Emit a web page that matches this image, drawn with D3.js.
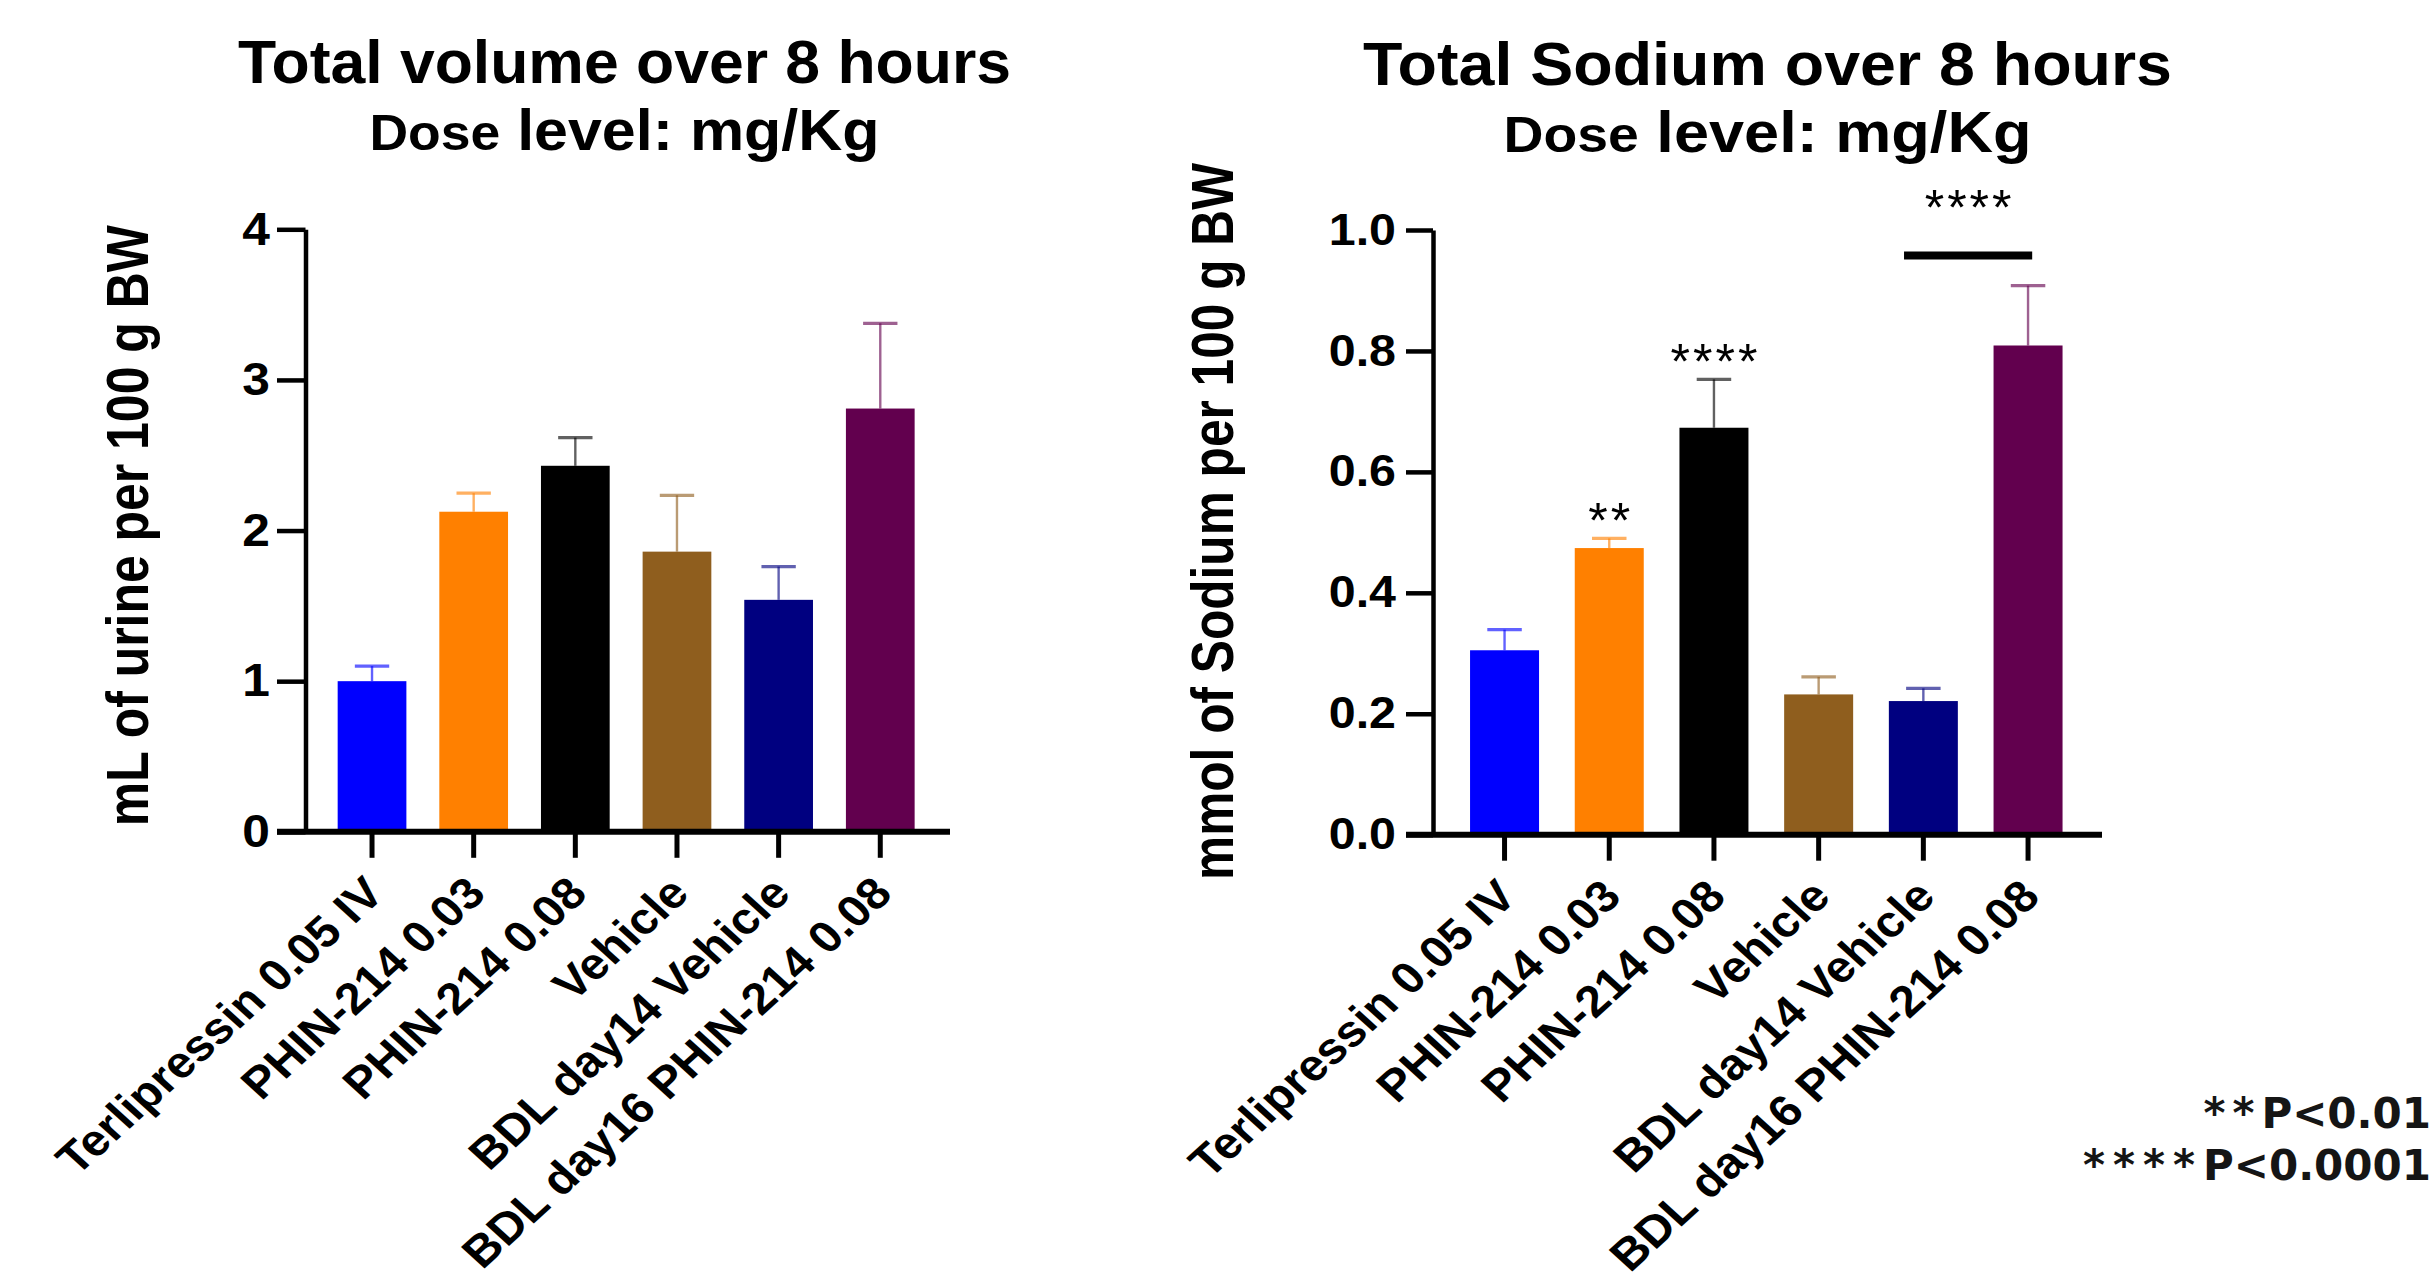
<!DOCTYPE html>
<html>
<head>
<meta charset="utf-8">
<script src="https://cdn.jsdelivr.net/npm/d3@7"></script>
<style>
body { margin: 0; background: #fff; }
svg text { font-family: "Liberation Sans", Arial, sans-serif; }
</style>
</head>
<body>
<div id="chart"></div>
<script>
// groups on the x axis (same in both panels)
var categories = ["Terlipressin 0.05 IV", "PHIN-214 0.03", "PHIN-214 0.08", "Vehicle", "BDL day14 Vehicle", "BDL day16 PHIN-214 0.08"];
var barColors = ["#0000ff", "#ff8000", "#000000", "#8f5e1e", "#000080", "#62004e"];

// left panel: urine volume
var volumeMean = [1.00, 2.125, 2.43, 1.86, 1.54, 2.81];
var volumeSem = [0.10, 0.123, 0.187, 0.374, 0.221, 0.566];
var volumeTicks = [0, 1, 2, 3, 4];

// right panel: sodium
var sodiumMean = [0.305, 0.474, 0.673, 0.232, 0.221, 0.809];
var sodiumSem = [0.034, 0.016, 0.080, 0.029, 0.021, 0.099];
var sodiumTicks = [0, 0.2, 0.4, 0.6, 0.8, 1.0];
var sodiumStars = ["", "**", "****", "", "", ""];
var compareGroups = [4, 5];
var compareLevel = 0.958;
var compareStars = "****";

var pStars = ["**", "****"];
var pText = ["P<0.01", "P<0.0001"];

var titlesLeft = ["Total volume over 8 hours", "Dose", " level: mg/Kg"];
var titlesRight = ["Total Sodium over 8 hours", "Dose", " level: mg/Kg"];

var W = 2433, H = 1286;
var svg = d3.select("#chart").append("svg")
    .attr("width", W)
    .attr("height", H);

function stretch(sel, f) {
    sel.each(function() {
        var L = this.getComputedTextLength();
        d3.select(this).attr("textLength", L * f).attr("lengthAdjust", "spacingAndGlyphs");
    });
}

function draw_panel(p) {
    var g = svg.append("g");

    var x = d3.scaleBand()
        .domain(categories)
        .range(p.band)
        .paddingInner(p.pad)
        .paddingOuter(p.pad / 2);
    var y = d3.scaleLinear()
        .domain([0, p.yMax])
        .range(p.yRange);
    var bw = x.bandwidth();

    // titles
    g.append("text")
        .attr("x", p.titleX).attr("y", p.titleY[0])
        .attr("text-anchor", "middle")
        .style("font-size", "61px").style("font-weight", "bold")
        .attr("textLength", p.titleLen[0]).attr("lengthAdjust", "spacingAndGlyphs")
        .text(p.titles[0]);
    var t2 = g.append("text")
        .attr("x", p.titleX).attr("y", p.titleY[1])
        .attr("text-anchor", "middle")
        .style("font-weight", "bold")
        .attr("textLength", p.titleLen[1]).attr("lengthAdjust", "spacingAndGlyphs");
    t2.append("tspan").style("font-size", "50px").text(p.titles[1]);
    t2.append("tspan").style("font-size", "57px").text(p.titles[2]);

    // y title
    g.append("text")
        .attr("transform", "translate(" + p.yTitleX + "," + p.yTitleY + ") rotate(-90)")
        .attr("text-anchor", "middle")
        .style("font-size", "60px").style("font-weight", "bold")
        .attr("textLength", p.yTitleLen).attr("lengthAdjust", "spacingAndGlyphs")
        .text(p.yTitle);

    // error bars (upper only)
    var err = g.selectAll(".err").data(p.means).enter().append("g")
        .attr("class", "err")
        .style("stroke", function(d, i) { return barColors[i]; })
        .style("stroke-opacity", 0.62)
        .style("stroke-width", 2.4);
    err.append("line")
        .attr("x1", function(d, i) { return x(categories[i]) + bw / 2; })
        .attr("x2", function(d, i) { return x(categories[i]) + bw / 2; })
        .attr("y1", function(d) { return y(d); })
        .attr("y2", function(d, i) { return y(d + p.sems[i]); });
    err.append("line")
        .attr("x1", function(d, i) { return x(categories[i]) + bw * 0.25; })
        .attr("x2", function(d, i) { return x(categories[i]) + bw * 0.75; })
        .attr("y1", function(d, i) { return y(d + p.sems[i]); })
        .attr("y2", function(d, i) { return y(d + p.sems[i]); })
        .style("stroke-width", 3.2);

    // bars
    g.selectAll(".bar").data(p.means).enter().append("rect")
        .attr("class", "bar")
        .attr("x", function(d, i) { return x(categories[i]); })
        .attr("width", bw)
        .attr("y", function(d) { return y(d); })
        .attr("height", function(d) { return y(0) - y(d); })
        .style("fill", function(d, i) { return barColors[i]; });

    // y axis
    var ya = g.append("g")
        .attr("transform", "translate(" + p.axisX + ",0)")
        .call(d3.axisLeft(y).tickValues(p.ticks).tickFormat(p.fmt)
            .tickSize(p.axisX - p.lineFrom).tickSizeOuter(0).tickPadding(p.tickPad));
    ya.select(".domain").style("stroke", "#000").style("stroke-width", 4.5);
    ya.selectAll(".tick line").style("stroke", "#000").style("stroke-width", 4.5);
    ya.selectAll(".tick text")
        .style("font-size", p.tickFont + "px").style("font-weight", "bold")
        .style("fill", "#000").style("font-family", "'Liberation Sans', Arial, sans-serif");
    stretch(ya.selectAll(".tick text"), p.tickStretch);

    // x axis, labels at 45deg then widened like the source image
    var xa = g.append("g")
        .attr("transform", "translate(0," + y(0) + ")")
        .call(d3.axisBottom(x).tickSize(26).tickSizeOuter(0));
    xa.select(".domain").remove();
    xa.selectAll(".tick line").style("stroke", "#000").style("stroke-width", 5);
    xa.selectAll(".tick text")
        .attr("x", 0).attr("y", 0).attr("dy", null)
        .attr("text-anchor", "end")
        .attr("transform", "translate(14,64) scale(1.1,1) rotate(-45)")
        .style("font-size", "44px").style("font-weight", "bold")
        .style("fill", "#000").style("font-family", "'Liberation Sans', Arial, sans-serif");

    g.append("line")
        .attr("x1", p.lineFrom).attr("x2", p.lineTo)
        .attr("y1", y(0)).attr("y2", y(0))
        .style("stroke", "#000").style("stroke-width", 6);

    // significance stars above bars
    if (p.stars) {
        g.selectAll(".star").data(p.stars).enter().append("text")
            .attr("class", "star")
            .attr("x", function(d, i) { return x(categories[i]) + bw / 2 + 1.5; })
            .attr("y", function(d, i) { return y(p.means[i] + p.sems[i]); })
            .attr("text-anchor", "middle")
            .style("font-size", "50px")
            .style("letter-spacing", "3px")
            .text(function(d) { return d; });
    }
    if (p.compare) {
        var cx1 = x(categories[p.compare[0]]) + bw * 0.22;
        var cx2 = x(categories[p.compare[1]]) + bw * 0.56;
        g.append("line")
            .attr("x1", cx1).attr("x2", cx2)
            .attr("y1", y(p.compareLevel)).attr("y2", y(p.compareLevel))
            .style("stroke", "#000").style("stroke-width", 8);
        g.append("text")
            .attr("x", (cx1 + cx2) / 2 + 1.5)
            .attr("y", y(p.compareLevel) - 30)
            .attr("text-anchor", "middle")
            .style("font-size", "50px")
            .style("letter-spacing", "3px")
            .text(compareStars);
    }
}

draw_panel({
    means: volumeMean, sems: volumeSem, ticks: volumeTicks, yMax: 4, fmt: d3.format("d"),
    titles: titlesLeft, yTitle: "mL of urine per 100 g BW",
    band: [321.2, 931.1], pad: 0.324, yRange: [831.8, 229.3],
    axisX: 305.5, lineFrom: 277, lineTo: 950, tickPad: 7,
    titleX: 624.5, titleY: [83.3, 150], titleLen: [773, 510],
    yTitleX: 148, yTitleY: 525.7, yTitleLen: 601,
    tickFont: 46, tickStretch: 1.08,
    stars: null, compare: null
});

draw_panel({
    means: sodiumMean, sems: sodiumSem, ticks: sodiumTicks, yMax: 1.0, fmt: d3.format(".1f"),
    titles: titlesRight, yTitle: "mmol of Sodium per 100 g BW",
    band: [1452.2, 2080.4], pad: 0.341, yRange: [834.7, 230],
    axisX: 1433, lineFrom: 1406, lineTo: 2102, tickPad: 10,
    titleX: 1767.5, titleY: [85, 151.7], titleLen: [809, 528],
    yTitleX: 1233, yTitleY: 521.5, yTitleLen: 717,
    tickFont: 44, tickStretch: 1.1,
    stars: sodiumStars, compare: compareGroups, compareLevel: compareLevel
});

// p-value key, bottom right, flush with the page edge as in the original
var key = svg.append("g");
var keyY = [1128.3, 1180], keySpace = [7, 8];
pStars.forEach(function(s, i) {
    var t = key.append("text")
        .attr("x", W - 2).attr("y", keyY[i])
        .attr("text-anchor", "end")
        .style("font-family", "'DejaVu Sans', sans-serif")
        .style("font-weight", "bold")
        .style("font-size", "42px")
        .style("fill", "#151515");
    t.append("tspan").style("letter-spacing", keySpace[i] + "px").text(s);
    t.append("tspan").text(pText[i]);
});
</script>
</body>
</html>
